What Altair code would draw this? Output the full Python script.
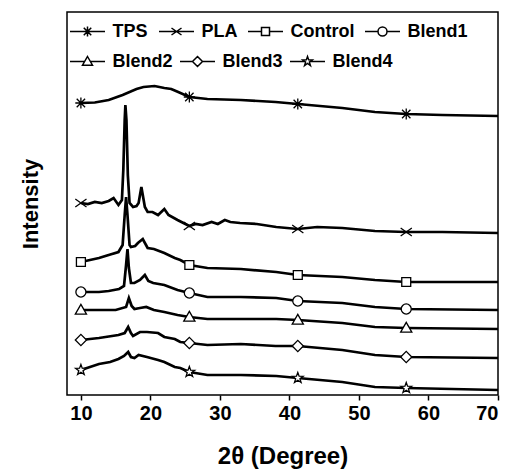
import altair as alt
import pandas as pd

series_names = ["TPS", "PLA", "Control", "Blend1", "Blend2", "Blend3", "Blend4"]
legend_row1 = ["TPS", "PLA", "Control", "Blend1"]
legend_row2 = ["Blend2", "Blend3", "Blend4"]
marker_x = [10, 25.6, 41.2, 56.8]

tps_x = [10, 12, 14, 16, 18, 19, 20.6, 22, 23, 24, 25.6, 28.2, 33, 38, 41.2, 47.6, 52.3, 56.8, 62, 70]
tps_y = [292, 292.5, 295, 300, 306, 308, 309, 307, 306, 303, 298, 296, 295, 293, 291, 287, 283, 281, 280, 279]

pla_x = [10, 11, 12, 13, 14, 14.7, 15.4, 15.9, 16.1, 16.3, 16.4, 16.55, 16.75, 17.0, 17.5, 18.0,
         18.3, 18.5, 18.7, 18.9, 19.2, 19.6, 20.3, 21.1, 22.0, 22.6, 23.9, 25.6, 26.5, 27.5,
         28.8, 29.7, 30.7, 31.5, 32.9, 35.3, 38.1, 41.2, 44, 47.6, 52.3, 56.8, 62, 70]
pla_y = [192, 191, 193, 192, 194, 197, 190, 195, 225, 275, 290, 275, 220, 192, 188, 189,
         192, 200, 208, 200, 188, 183, 183, 180, 186, 180, 175, 169, 171, 170,
         173, 171, 175, 173, 172, 171, 168, 166, 168, 167, 164, 163, 163, 162]

control_x = [10, 12.6, 14, 15.4, 16.0, 16.3, 16.5, 16.7, 17.0, 17.2, 17.8, 18.2, 18.9, 19.6,
             20.5, 22, 23.5, 24.3, 25.6, 28.2, 33, 38.1, 41.2, 47.6, 52.3, 56.8, 70]
control_y = [133, 137, 140, 143, 150, 180, 198, 180, 150, 148, 149, 152, 156, 147,
             146, 142, 137, 135, 130, 127, 126, 123, 120, 118, 115, 113, 113]

blend1_x = [10, 12.6, 14, 15.5, 16.2, 16.5, 16.7, 16.9, 17.2, 17.7, 18.5, 19.2, 19.7, 20.4,
            22, 23.9, 25.6, 28.2, 33, 38.1, 41.2, 47.6, 52.3, 56.8, 70]
blend1_y = [103, 103, 104, 106, 109, 130, 146, 127, 112, 112, 115, 120, 114, 112,
            110, 105, 102, 98, 98, 97, 94, 92, 88, 86, 85]

blend2_x = [10, 13, 15, 16.5, 16.9, 17.3, 17.7, 18.5, 19.4, 20.5, 22, 23.9, 25.6, 28.2,
            33, 38.1, 41.2, 47.6, 52.3, 56.8, 70]
blend2_y = [85, 85, 85, 88, 97, 89, 86, 87, 88, 85, 83, 80, 78, 76,
            76, 76, 75, 72, 68, 67, 66]

blend3_x = [10, 12.6, 15.4, 16.3, 16.8, 17.2, 17.5, 18.5, 19.5, 21.1, 22, 23.5, 24.3, 25.6,
            28.2, 33, 38, 41.2, 47.6, 52.3, 56.8, 70]
blend3_y = [55, 57, 60, 62, 68, 62, 59, 63, 63, 62, 58, 56, 53, 52,
            50, 51, 49, 49, 45, 40, 38, 37]

blend4_x = [10, 12.6, 14.2, 15.4, 16.2, 16.8, 17.2, 17.7, 18.3, 19.5, 21.1, 22, 23.5, 24.3,
            25.6, 28.2, 33, 38.1, 41.2, 47.6, 52.3, 56.8, 70]
blend4_y = [25, 31, 33, 36, 39, 43, 38, 37, 40, 38, 35, 33, 28, 27,
            23, 20, 20, 19, 17, 13, 8, 7, 5]

xs = [tps_x, pla_x, control_x, blend1_x, blend2_x, blend3_x, blend4_x]
ys = [tps_y, pla_y, control_y, blend1_y, blend2_y, blend3_y, blend4_y]

rows = []
for name, sx, sy in zip(series_names, xs, ys):
    for a, b in zip(sx, sy):
        rows.append({"series": name, "x": a, "y": b})
df = pd.DataFrame(rows)
mk = df[df["x"].isin(marker_x)]

# marker shapes in a unit box
marker_shapes = [
    "M0,-1L0,1M-0.75,-0.75L0.75,0.75M-0.75,0.75L0.75,-0.75M-1,0L1,0",
    "M-1,-0.7L1,0.7M-1,0.7L1,-0.7",
    "M-0.8,-0.8H0.8V0.8H-0.8Z",
    "M-0.9,0A0.9,0.9 0 1,0 0.9,0A0.9,0.9 0 1,0 -0.9,0Z",
    "M0,-1L1,0.75H-1Z",
    "M0,-1L1,0L0,1L-1,0Z",
    "M0,-1L0.235,-0.324L0.951,-0.309L0.38,0.124L0.588,0.809L0,0.4L-0.588,0.809L-0.38,0.124L-0.951,-0.309L-0.235,-0.324Z",
]
# legend shapes: same markers with a short line on each side
legend_tails = [
    "M-3.5,0L3.5,0",
    "M-3.5,0L3.5,0",
    "M-3.5,0H-0.8M0.8,0H3.5",
    "M-3.5,0H-0.9M0.9,0H3.5",
    "M-3.5,0H-0.57M0.57,0H3.5",
    "M-3.5,0H-1M1,0H3.5",
    "M-3.5,0H-0.54M0.54,0H3.5",
]
legend_shapes = [m + t for m, t in zip(marker_shapes, legend_tails)]
shape_of = dict(zip(series_names, legend_shapes))

xscale = alt.Scale(domain=[8, 70], nice=False, zero=False)
yscale = alt.Scale(domain=[0, 383], nice=False, zero=False)

lines = alt.Chart(df).mark_line(color="black", strokeWidth=2.7).encode(
    x=alt.X("x:Q", scale=xscale,
            axis=alt.Axis(values=list(range(10, 71, 5)), title="2θ (Degree)",
                          labelExpr="datum.value % 10 == 0 ? datum.label : ''",
                          domain=False, tickColor="black", tickSize=5, tickWidth=1.5,
                          labelFont="Liberation Sans", labelFontWeight="bold", labelFontSize=20,
                          labelColor="black", labelPadding=3, grid=False,
                          titleFont="Liberation Sans", titleFontWeight="bold", titleFontSize=24,
                          titleColor="black", titlePadding=21)),
    y=alt.Y("y:Q", scale=yscale,
            axis=alt.Axis(title="Intensity", labels=False, ticks=False, domain=False, grid=False,
                          titleFont="Liberation Sans", titleFontWeight="bold", titleFontSize=22,
                          titleColor="black", titlePadding=25)),
    detail="series:N",
)

points = alt.Chart(mk).mark_point(filled=False, fill="white", fillOpacity=1, stroke="black",
                                  strokeWidth=1.3, size=125, opacity=1).encode(
    x=alt.X("x:Q", scale=xscale),
    y=alt.Y("y:Q", scale=yscale),
    shape=alt.Shape("series:N", sort=series_names,
                    scale=alt.Scale(domain=series_names, range=marker_shapes),
                    legend=None),
)


def legend_layer(names, ly, gap):
    sub = mk[mk["series"].isin(names)]
    return alt.Chart(sub).mark_point(filled=False, fill="white", stroke="black",
                                     strokeWidth=1.4, opacity=0).encode(
        x=alt.X("x:Q", scale=xscale),
        y=alt.Y("y:Q", scale=yscale),
        shape=alt.Shape("series:N", sort=names,
                        scale=alt.Scale(domain=names, range=[shape_of[n] for n in names]),
                        legend=alt.Legend(title=None, orient="none", legendX=11.5, legendY=ly,
                                          direction="horizontal", columnPadding=gap, padding=0,
                                          labelOffset=16, labelFont="Liberation Sans",
                                          labelFontWeight="bold", labelFontSize=18,
                                          labelColor="black", labelLimit=0)),
    )


chart = alt.layer(lines, points, legend_layer(legend_row1, 10.5, 7), legend_layer(legend_row2, 40.5, 3)
                  ).resolve_scale(shape="independent").properties(
    width=431, height=383,
    padding={"left": 11, "top": 4, "right": 0, "bottom": 5},
).configure_view(stroke="black", strokeWidth=1.5)

chart.save("out.html", embed_options={"renderer": "svg", "actions": False})
